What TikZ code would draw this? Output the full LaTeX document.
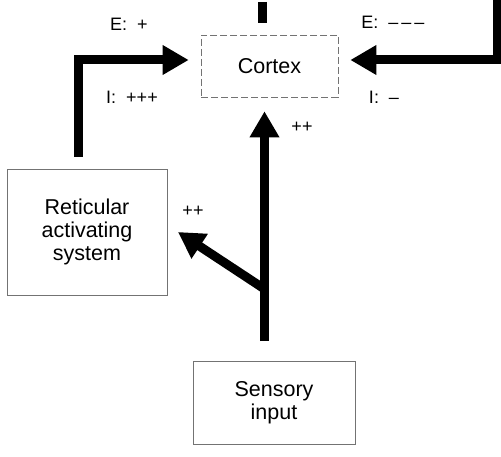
\documentclass[tikz,border=0pt]{standalone}
\usepackage{fontspec}
\setmainfont{Liberation Sans}
\usetikzlibrary{arrows.meta}
\begin{document}
\begin{tikzpicture}[x=1pt,y=-1pt,
  boxstyle/.style={draw=black!55, line width=0.6pt, inner sep=0pt, align=center,
    font=\fontsize{21.5}{23}\selectfont},
  cortexbox/.style={boxstyle, dash pattern=on 7pt off 3pt},
  arr/.style={line width=9pt, -{Triangle[length=26pt,width=28pt]}},
  stub/.style={line width=9pt},
  lbl/.style={font=\fontsize{18}{20}\selectfont, inner sep=0pt}]
\useasboundingbox (0,0) rectangle (501,457);
\node[cortexbox, minimum width=137pt, minimum height=62pt] (cortex) at (269.5,66) {Cortex};
\node[boxstyle, minimum width=160pt, minimum height=126pt] (ras) at (87,232) {Reticular\\activating\\system};
\node[boxstyle, minimum width=162pt, minimum height=83pt] (sens) at (274,403) {Sensory\\input};
\coordinate (lstart) at (78,157);
\coordinate (rtop) at (497,0);
\coordinate (stubtop) at (262.5,2);
\coordinate (stubbot) at (262.5,23);
\coordinate (junc) at (264.5,289);
\coordinate (rastip) at (178,232);
\draw[stub] (stubtop) -- (stubbot);
\draw[arr, shorten >=12pt] (lstart) |- ([yshift=6pt]cortex.west);
\draw[arr, shorten >=12pt] (rtop) |- ([yshift=6pt]cortex.east);
\draw[arr, shorten <=20pt, shorten >=14pt] ([xshift=-9.5pt]sens.north) -- ([xshift=-5pt]cortex.south);
\draw[arr] (junc) -- (rastip);
\node[lbl] (e1) at (129,24) {E:\ \ +};
\node[lbl] (i1) at (132,97) {I:\ \ +++};
\node[lbl] (e2) at (393,22) {E:\ \ \textendash\hspace{3pt}\textendash\hspace{3pt}\textendash};
\node[lbl] (i2) at (384,97) {I:\ \ \textendash};
\node[lbl] (p1) at (302,127) {++};
\node[lbl] (p2) at (193,211) {++};
\end{tikzpicture}
\end{document}
